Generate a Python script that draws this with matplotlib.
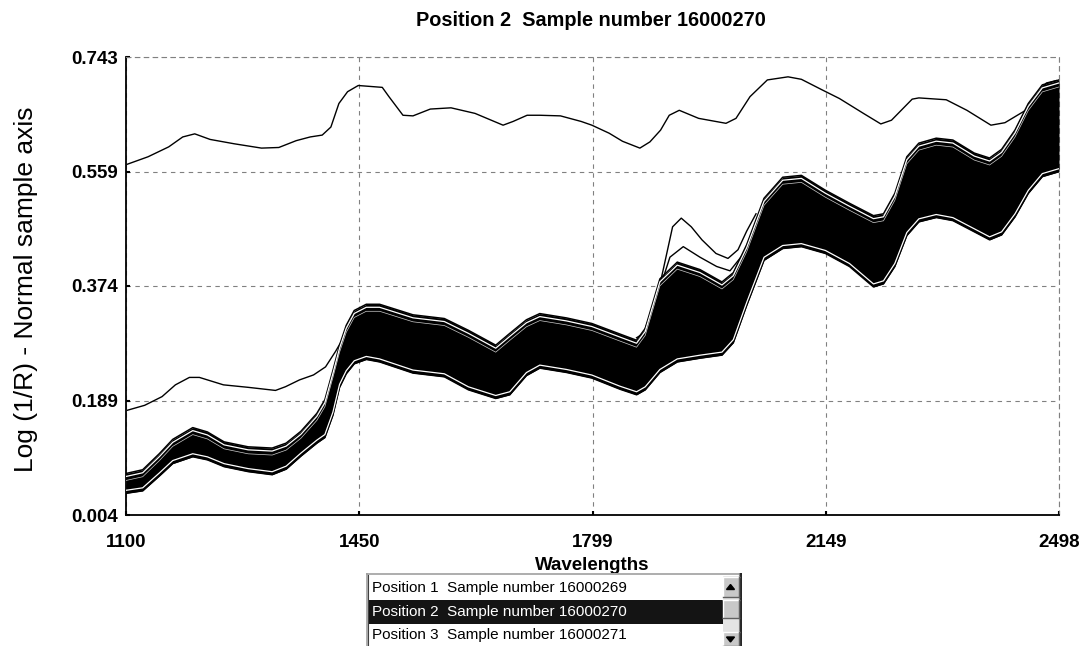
import matplotlib
matplotlib.use("Agg")
import numpy as np
import matplotlib.pyplot as plt
from matplotlib.patches import Rectangle, Polygon
from matplotlib.transforms import offset_copy

plt.rcParams['font.family'] = ['Liberation Sans', 'DejaVu Sans']

# Axis ranges and tick labels, as shown on the instrument screen
x_min, x_max = 1100, 2498
y_min, y_max = 0.004, 0.743
x_tick_labels = ["1100", "1450", "1799", "2149", "2498"]
y_tick_labels = ["0.004", "0.189", "0.374", "0.559", "0.743"]

# Selected sample, drawn above the set (single upper curve)
upper_wl = [1102, 1133, 1164, 1185, 1203, 1226, 1262, 1303, 1329, 1355, 1376, 1394,
            1407, 1419, 1432, 1448, 1484, 1494, 1515, 1530, 1556, 1587, 1623, 1665,
            1680, 1701, 1720, 1751, 1782, 1798, 1824, 1844, 1870, 1885, 1901, 1914,
            1929, 1958, 1999, 2014, 2035, 2061, 2092, 2112, 2143, 2169, 2205, 2231,
            2247, 2278, 2288, 2329, 2360, 2396, 2417, 2448, 2479, 2494]
upper_val = [0.570, 0.582, 0.598, 0.614, 0.619, 0.610, 0.603, 0.596, 0.597, 0.608, 0.614, 0.617,
             0.630, 0.668, 0.687, 0.697, 0.694, 0.679, 0.649, 0.648, 0.659, 0.661, 0.652, 0.633,
             0.639, 0.649, 0.649, 0.648, 0.639, 0.633, 0.620, 0.607, 0.596, 0.606, 0.625, 0.649,
             0.657, 0.644, 0.636, 0.644, 0.679, 0.706, 0.711, 0.707, 0.690, 0.676, 0.652, 0.635,
             0.641, 0.675, 0.677, 0.674, 0.657, 0.633, 0.637, 0.657, 0.701, 0.705]

# Same sample, normal position (single lower curve, joins the set near 1440)
lower_wl = [1102, 1128, 1154, 1174, 1195, 1210, 1246, 1283, 1324, 1339, 1360, 1381,
            1399, 1414, 1427, 1440]
lower_val = [0.173, 0.181, 0.195, 0.214, 0.226, 0.226, 0.214, 0.210, 0.205, 0.211, 0.222, 0.230,
             0.243, 0.268, 0.292, 0.325]

# Envelope of the sample set (dense black band)
band_wl = [1100, 1125, 1150, 1170, 1200, 1222, 1247, 1283, 1319, 1340, 1362, 1386, 1398,
           1410, 1420, 1430, 1442, 1460, 1480, 1530, 1577, 1613, 1654, 1675, 1700, 1720,
           1760, 1798, 1840, 1865, 1878, 1900, 1926, 1960, 1993, 2010, 2030, 2056, 2084,
           2112, 2148, 2184, 2220, 2235, 2252, 2270, 2288, 2314, 2339, 2371, 2394, 2412,
           2432, 2452, 2473, 2498]
band_hi = [0.071, 0.077, 0.103, 0.126, 0.145, 0.138, 0.122, 0.114, 0.112, 0.120, 0.139, 0.168, 0.190,
           0.237, 0.278, 0.310, 0.334, 0.344, 0.344, 0.327, 0.321, 0.302, 0.278, 0.297, 0.319, 0.329,
           0.322, 0.313, 0.296, 0.286, 0.305, 0.385, 0.412, 0.400, 0.380, 0.395, 0.440, 0.515, 0.549,
           0.552, 0.528, 0.507, 0.487, 0.490, 0.523, 0.582, 0.604, 0.612, 0.609, 0.588, 0.580, 0.594,
           0.625, 0.668, 0.698, 0.706]
band_lo = [0.039, 0.043, 0.067, 0.087, 0.098, 0.093, 0.082, 0.074, 0.069, 0.078, 0.099, 0.120, 0.129,
           0.165, 0.210, 0.232, 0.248, 0.255, 0.251, 0.233, 0.227, 0.206, 0.192, 0.198, 0.229, 0.241,
           0.234, 0.225, 0.207, 0.198, 0.206, 0.234, 0.251, 0.257, 0.262, 0.282, 0.342, 0.415, 0.434,
           0.437, 0.426, 0.405, 0.372, 0.377, 0.405, 0.455, 0.477, 0.484, 0.479, 0.461, 0.448, 0.456,
           0.485, 0.523, 0.550, 0.558]

# Outlying spectra around the 1930 nm water band
out1_wl = [1865, 1885, 1906, 1919, 1932, 1947, 1963, 1984, 2002, 2017, 2030, 2044]
out1_val = [0.290, 0.303, 0.405, 0.469, 0.483, 0.469, 0.448, 0.426, 0.418, 0.432, 0.462, 0.490]
out2_wl = [1878, 1900, 1915, 1935, 1960, 1985, 2005, 2025, 2038]
out2_val = [0.305, 0.370, 0.420, 0.437, 0.420, 0.405, 0.398, 0.425, 0.460]

# List box entries
list_items = ["Position 1  Sample number 16000269",
              "Position 2  Sample number 16000270",
              "Position 3  Sample number 16000271"]
selected_item = 1


W, H = 1082, 646
fig = plt.figure(figsize=(W / 100, H / 100), dpi=100)
ax = fig.add_axes([126 / W, 1 - 515 / H, (1059 - 126) / W, (515 - 57) / H])

# band of spectra
ax.fill_between(band_wl, band_lo, band_hi, color='black', lw=0, zorder=3)
ax.plot(band_wl, band_hi, color='black', lw=1.1, zorder=4, solid_joinstyle='round')
ax.plot(band_wl, band_lo, color='black', lw=1.1, zorder=4, solid_joinstyle='round')
# white gaps that separate the outermost spectra from the rest
t_up = offset_copy(ax.transData, fig=fig, y=3, units='dots')
t_dn = offset_copy(ax.transData, fig=fig, y=-3, units='dots')
t_dn2 = offset_copy(ax.transData, fig=fig, y=-7, units='dots')
ax.plot(band_wl, band_lo, color='white', lw=0.9, transform=t_up, zorder=5)
ax.plot(band_wl, band_hi, color='white', lw=0.9, transform=t_dn, zorder=5)
ax.plot(band_wl, band_hi, color='white', lw=0.5, transform=t_dn2, zorder=5, alpha=0.8)

ax.plot(out2_wl, out2_val, color='black', lw=1.0, zorder=4, solid_joinstyle='round')
ax.plot(out1_wl, out1_val, color='black', lw=1.0, zorder=4, solid_joinstyle='round')

ax.plot(upper_wl, upper_val, color='black', lw=1.0, zorder=4, solid_joinstyle='round')
ax.plot(lower_wl, lower_val, color='black', lw=1.0, zorder=4, solid_joinstyle='round')

ax.set_xlim(x_min, x_max)
ax.set_ylim(y_min, y_max)
ax.set_xticks(np.linspace(x_min, x_max, len(x_tick_labels)))
ax.set_xticklabels(x_tick_labels)
ax.set_yticks(np.linspace(y_min, y_max, len(y_tick_labels)))
ax.set_yticklabels(y_tick_labels)
for lab in ax.get_xticklabels() + ax.get_yticklabels():
    lab.set_fontweight('bold')
    lab.set_fontsize(13.5)
ax.tick_params(axis='x', direction='in', length=3, width=1.5, pad=14)
ax.tick_params(axis='y', direction='in', length=3, width=1.5, pad=6)

ax.grid(True, color='#808080', lw=0.8, linestyle=(0, (4, 4)), zorder=1)
for side in ['top', 'right']:
    ax.spines[side].set_color('#808080')
    ax.spines[side].set_linestyle((0, (4, 4)))
    ax.spines[side].set_linewidth(0.8)
for side in ['left', 'bottom']:
    ax.spines[side].set_linewidth(1.3)

ax.set_xlabel("Wavelengths", fontsize=13.5, fontweight='bold', labelpad=4)
fig.text(26 / W, 1 - 289 / H, "Log (1/R) - Normal sample axis", rotation=90,
         ha='center', va='center', fontsize=19)
fig.text(591 / W, 1 - 20 / H, "Position 2  Sample number 16000270",
         ha='center', va='center', fontsize=14.3, fontweight='bold')

# list box widget under the plot (pixel coordinates inside its own axes)
lb = fig.add_axes([366 / W, 0, (742 - 366) / W, (646 - 573) / H])
lb.set_xlim(0, 376)
lb.set_ylim(73, 0)
lb.axis('off')
lb.add_patch(Rectangle((0, 0), 376, 73, facecolor='white', edgecolor='none'))
lb.plot([0, 376], [0.7, 0.7], color='#a0a0a0', lw=1.2)
lb.plot([0.7, 0.7], [0, 73], color='#a0a0a0', lw=1.2)
lb.plot([2, 2], [2, 73], color='#404040', lw=0.8)
lb.plot([375, 375], [0, 73], color='#202020', lw=1.4)
lb.plot([373, 373], [0, 73], color='#808080', lw=0.8)

row_h = 23.5
for i, item in enumerate(list_items):
    y0 = 3 + i * row_h
    color = 'black'
    if i == selected_item:
        lb.add_patch(Rectangle((2.5, y0 + 0.5), 354, row_h, facecolor='#141414', edgecolor='none'))
        color = 'white'
    lb.text(6, y0 + row_h / 2 + 0.5, item, ha='left', va='center', fontsize=11, color=color)

# scroll bar
sx0, sx1 = 356.5, 372.5
def button(y0, y1):
    lb.add_patch(Rectangle((sx0, y0), sx1 - sx0, y1 - y0, facecolor='#c8c8c8', edgecolor='none'))
    lb.plot([sx0, sx1], [y0, y0], color='white', lw=1)
    lb.plot([sx0, sx0], [y0, y1], color='white', lw=1)
    lb.plot([sx0, sx1], [y1, y1], color='#606060', lw=1)
    lb.plot([sx1, sx1], [y0, y1], color='#606060', lw=1)

lb.add_patch(Rectangle((sx0, 3), sx1 - sx0, 70, facecolor='#e4e4e4', edgecolor='none', hatch='....'))
button(3.5, 24)
button(27, 45)
button(59, 73)
cx = (sx0 + sx1) / 2
lb.add_patch(Polygon([[cx - 4, 16.5], [cx + 4, 16.5], [cx, 11.5]], closed=True, color='black'))
lb.add_patch(Polygon([[cx - 4, 64], [cx + 4, 64], [cx, 69]], closed=True, color='black'))

fig.savefig("out.png", dpi=100, facecolor='white')
